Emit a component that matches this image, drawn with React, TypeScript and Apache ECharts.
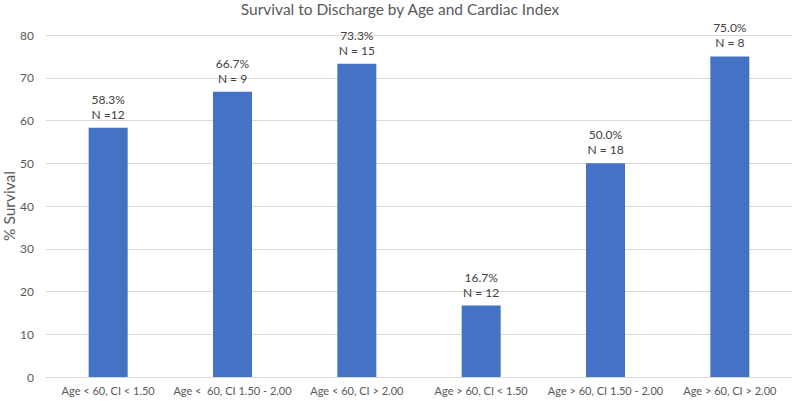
import React, { useEffect, useRef } from "react";
import * as echarts from "echarts";

const categories = [
  "Age < 60, CI < 1.50",
  "Age <  60, CI 1.50 - 2.00",
  "Age < 60, CI > 2.00",
  "Age > 60, CI < 1.50",
  "Age > 60, CI 1.50 - 2.00",
  "Age > 60, CI > 2.00",
];
const survival = [58.3, 66.7, 73.3, 16.7, 50.0, 75.0];
const nLabels = ["N =12", "N = 9", "N = 15", "N = 12", "N = 18", "N = 8"];
const yTicks = { min: 0, max: 80, interval: 10 };

const FONT = "Lato, 'Open Sans', sans-serif";

export default function App() {
  const ref = useRef<HTMLDivElement>(null);
  useEffect(() => {
    if (!ref.current) return;
    const chart = echarts.init(ref.current, null, { renderer: "svg" });
    chart.setOption({
      animation: false,
      backgroundColor: "#ffffff",
      textStyle: { fontFamily: FONT },
      title: {
        text: "Survival to Discharge by Age and Cardiac Index",
        left: "center",
        top: 1,
        padding: 0,
        textStyle: { fontFamily: FONT, fontSize: 15.5, fontWeight: "normal", color: "#595959" },
      },
      grid: {
        left: 46,
        right: 8,
        top: 35,
        bottom: 24,
        containLabel: false,
        outerBoundsMode: "none",
      },
      xAxis: {
        type: "category",
        data: categories,
        axisLine: { show: true, lineStyle: { color: "#d9d9d9", width: 1 } },
        axisTick: { show: false },
        axisLabel: { color: "#595959", fontSize: 11, fontFamily: FONT, margin: 8, interval: 0 },
      },
      yAxis: {
        type: "value",
        min: yTicks.min,
        max: yTicks.max,
        interval: yTicks.interval,
        name: "% Survival",
        nameLocation: "middle",
        nameGap: 29,
        nameMoveOverlap: false,
        nameTextStyle: { color: "#595959", fontSize: 15.5, fontFamily: FONT },
        axisLine: { show: false },
        axisTick: { show: false },
        axisLabel: { color: "#595959", fontSize: 12, fontFamily: FONT, margin: 12 },
        splitLine: { lineStyle: { color: "#d9d9d9", width: 1 } },
      },
      series: [
        {
          type: "bar",
          data: survival,
          barWidth: 39,
          itemStyle: { color: "#4472C4" },
          label: {
            show: true,
            position: "top",
            distance: 6,
            color: "#404040",
            fontSize: 12,
            fontFamily: FONT,
            lineHeight: 15,
            formatter: (p: any) => `${survival[p.dataIndex].toFixed(1)}%\n${nLabels[p.dataIndex]}`,
          },
        },
      ],
    });
    return () => chart.dispose();
  }, []);
  return (
    <div
      ref={ref}
      style={{ position: "fixed", left: 0, top: 0, width: 800, height: 401 }}
    />
  );
}
